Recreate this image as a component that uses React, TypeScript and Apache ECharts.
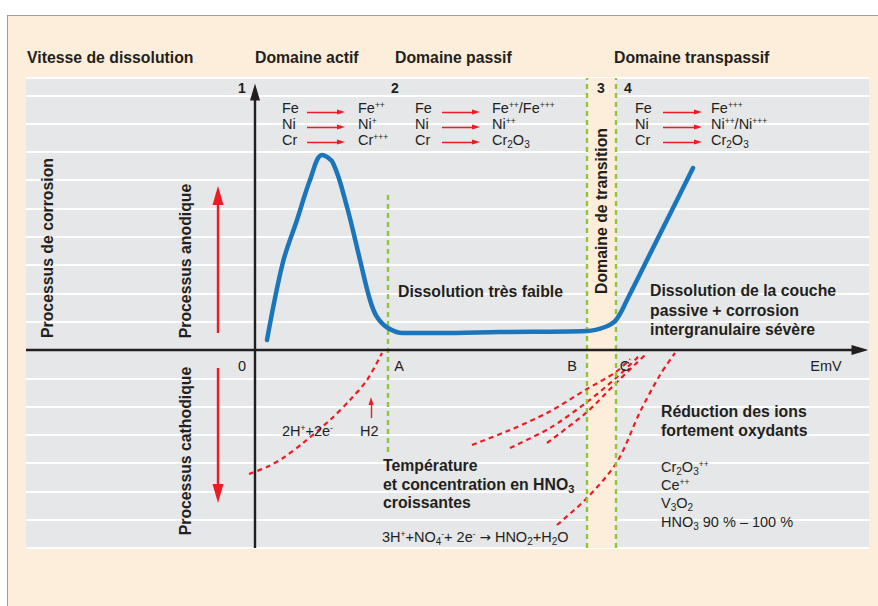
import React, { useEffect, useRef } from 'react';
import * as echarts from 'echarts';

// ---------- data (x: potential E, arbitrary units; y: dissolution rate, arbitrary units) ----------
const xRange = [-22.9, 61.4];
const yStep = 2.83;
const yRange = [-7 * yStep, 27.2];

const polarisationX = [1.2, 2.8, 4.2, 5.5, 6.7, 7.8, 9.2, 10.5, 11.5, 12.2, 13.3, 14.8, 18.5, 24.5, 33.2, 35.0, 36.1, 37.2, 40.5, 43.8];
const polarisationY = [1.0, 8.8, 13.0, 17.0, 19.5, 18.7, 14.3, 9.0, 5.0, 3.3, 2.2, 1.7, 1.7, 1.8, 1.9, 2.3, 3.0, 5.0, 11.6, 18.2];

const hydrogenX = [-0.6, 1.2, 2.8, 4.8, 7.5, 9.5, 11.2, 12.7];
const hydrogenY = [-12.4, -11.7, -10.8, -9.3, -7.0, -5.0, -3.0, -0.3];

const nitricAX = [21.7, 25.5, 29.2, 33.2, 36.1, 37.5];
const nitricAY = [-9.5, -8.0, -6.3, -3.9, -2.2, -0.9];
const nitricBX = [25.5, 29.5, 33.2, 36.1, 38.5];
const nitricBY = [-9.8, -7.8, -5.2, -2.8, -0.5];
const nitricCX = [29.2, 33.2, 36.1, 39.0];
const nitricCY = [-9.3, -6.2, -3.3, -0.5];
const oxidantX = [30.2, 33.2, 36.2, 38.5, 40.5, 42.0];
const oxidantY = [-17.5, -14.8, -11.2, -6.2, -2.5, -0.3];

const pointA = 13.3;
const pointB = 33.2;
const pointC = 36.1;
const lineAY = [15.5, -10.2];

const axisVerticalEnd = 25.8;
const axisHorizontalEnd = 60.5;

const anodicArrow = [-3.7, 1.7, 15.45];
const cathodicArrow = [-3.7, -1.8, -14.35];
const h2Arrow = [11.6, -6.8, -5.1];
const reactionRowsY = [23.8, 22.3, 20.8];
const reactionArrowsX = [[5.2, 8.6], [18.7, 22.1], [40.8, 44.3]];

// ---------- texts ----------
const headerLabels = ['Vitesse de dissolution', 'Domaine actif', 'Domaine passif', 'Domaine transpassif'];
const zoneNumbers = ['1', '2', '3', '4'];
const reactants = ['Fe', 'Ni', 'Cr'];
const productsActive = ['Fe^{++}', 'Ni^{+}', 'Cr^{+++}'];
const productsPassive = ['Fe^{++}/Fe^{+++}', 'Ni^{++}', 'Cr_{2}O_{3}'];
const productsTranspassive = ['Fe^{+++}', 'Ni^{++}/Ni^{+++}', 'Cr_{2}O_{3}'];
const oxidisingIons = ['Cr_{2}O_{3}^{++}', 'Ce^{++}', 'V_{3}O_{2}', 'HNO_{3} 90 % – 100 %'];
const potentialMarks = ['0', 'A', 'B', 'C', 'EmV'];

const FONT = '"Liberation Sans", Arial, Helvetica, sans-serif';
const TXT = '#231f20';
const PEACH = '#fdeedb';
const GRAY = '#e6e7e8';
const BLUE = '#1b75bb';
const RED = '#ed1c24';
const GREEN = '#8dc63f';

const zip = (xs: number[], ys: number[]) => xs.map((x, i) => [x, ys[i]]);

function toRich(s: string, base: string) {
  let out = '';
  const re = /([\^_])\{([^}]*)\}|(→)|([^\^_→]+)/g;
  let m: RegExpExecArray | null;
  while ((m = re.exec(s))) {
    if (m[1]) out += `{${base}${m[1] === '^' ? 'Sup' : 'Sub'}|${m[2]}}`;
    else if (m[3]) out += `{arr|${m[3]}}`;
    else out += `{${base}|${m[4]}}`;
  }
  return out;
}

const rich: any = {
  r: { fontFamily: FONT, fontSize: 14.5, fill: TXT, lineHeight: 16 },
  rSup: { fontFamily: FONT, fontSize: 8.5, fill: TXT, lineHeight: 8, padding: [0, 0, 7, 0] },
  rSub: { fontFamily: FONT, fontSize: 10, fill: TXT, lineHeight: 8, padding: [9, 0, 0, 0] },
  arr: { fontFamily: '"DejaVu Sans", sans-serif', fontSize: 13.5, fill: TXT, lineHeight: 16 },
  b: { fontFamily: FONT, fontSize: 15.8, fontWeight: 'bold', fill: TXT, lineHeight: 18.5 },
  bSub: { fontFamily: FONT, fontSize: 11, fontWeight: 'bold', fill: TXT, lineHeight: 10, padding: [9, 0, 0, 0] },
};

function txt(text: string, x: number, y: number, opts: any = {}) {
  const base = opts.bold ? 'b' : 'r';
  return {
    type: 'text',
    x,
    y,
    rotation: opts.rotation || 0,
    silent: true,
    z: 100,
    style: {
      text: toRich(text, base),
      rich,
      align: opts.align || 'left',
      verticalAlign: opts.verticalAlign || 'middle',
    },
  };
}

function plainBold(text: string, x: number, y: number, size: number, opts: any = {}) {
  return {
    type: 'text',
    x,
    y,
    rotation: opts.rotation || 0,
    silent: true,
    z: 100,
    style: {
      text,
      fontFamily: FONT,
      fontSize: size,
      fontWeight: 'bold',
      fill: TXT,
      align: opts.align || 'left',
      verticalAlign: 'middle',
      lineHeight: opts.lineHeight || size * 1.2,
    },
  };
}

function buildGraphics() {
  const g: any[] = [];
  const headerX = [27, 255, 395, 614];
  headerLabels.forEach((t, i) => g.push(plainBold(t, headerX[i], 57, 15.8)));
  const numX = [242, 395, 601, 628];
  zoneNumbers.forEach((t, i) => g.push(plainBold(t, numX[i], 88, 14, { align: 'center' })));

  const rowY = [108, 124, 140];
  const reactX = [282, 415, 635];
  const prodX = [358, 492, 711];
  const prods = [productsActive, productsPassive, productsTranspassive];
  for (let c = 0; c < 3; c++) {
    for (let r = 0; r < 3; r++) {
      g.push(txt(reactants[r], reactX[c], rowY[r]));
      g.push(txt(prods[c][r], prodX[c], rowY[r]));
    }
  }

  g.push(plainBold('Processus de corrosion', 47, 248, 15.8, { align: 'center', rotation: Math.PI / 2 }));
  g.push(plainBold('Processus anodique', 185, 261, 15.8, { align: 'center', rotation: Math.PI / 2 }));
  g.push(plainBold('Processus cathodique', 185, 451, 15.8, { align: 'center', rotation: Math.PI / 2 }));
  g.push(plainBold('Domaine de transition', 601, 211, 15.8, { align: 'center', rotation: Math.PI / 2 }));

  g.push(plainBold('Dissolution très faible', 398, 291, 15.8));
  g.push(plainBold('Dissolution de la couche\npassive + corrosion\nintergranulaire sévère', 650, 310, 15.8, { lineHeight: 19.8 }));
  g.push(plainBold('Réduction des ions\nfortement oxydants', 661, 420.5, 15.8, { lineHeight: 19 }));
  g.push(txt('Température\net concentration en HNO_{3}\ncroissantes', 383, 484, { bold: true }));

  const markX = [242, 399, 572, 625, 826];
  potentialMarks.forEach((t, i) => g.push(txt(t, markX[i], 366, { align: 'center' })));

  g.push(txt('2H^{+}+2e^{-}', 282, 431));
  g.push(txt('H2', 360, 431));
  g.push(txt('3H^{+}+NO_{4}^{-}+ 2e^{-} → HNO_{2}+H_{2}O', 382, 537));

  const ionY = [467, 485, 503, 522];
  oxidisingIons.forEach((t, i) => g.push(txt(t, 661, ionY[i])));
  return g;
}

const dashedRed = (name: string, xs: number[], ys: number[]) => ({
  name,
  type: 'line',
  data: zip(xs, ys),
  smooth: 0.3,
  symbol: 'none',
  silent: true,
  z: 4,
  lineStyle: { color: RED, width: 2.2, type: [5, 4] },
});

const arrowLine = (x1: number, y1: number, x2: number, y2: number) => [
  { coord: [x1, y1] },
  { coord: [x2, y2] },
];

function buildOption() {
  return {
    animation: false,
    backgroundColor: 'transparent',
    grid: {
      left: 26,
      right: 9,
      top: 78,
      bottom: 57.9,
      show: true,
      backgroundColor: GRAY,
      borderWidth: 0,
      containLabel: false,
      outerBoundsMode: 'none',
    },
    xAxis: {
      type: 'value',
      min: xRange[0],
      max: xRange[1],
      axisLine: { show: false },
      axisTick: { show: false },
      axisLabel: { show: false },
      splitLine: { show: false },
    },
    yAxis: {
      type: 'value',
      min: yRange[0],
      max: yRange[1],
      interval: yStep,
      axisLine: { show: false },
      axisTick: { show: false },
      axisLabel: { show: false },
      splitLine: { show: true, lineStyle: { color: '#ffffff', width: 2.2 } },
    },
    graphic: buildGraphics(),
    series: [
      {
        name: 'band',
        type: 'line',
        data: [],
        z: 1,
        silent: true,
        markArea: {
          silent: true,
          itemStyle: { color: PEACH, opacity: 1 },
          label: { show: false },
          data: [[{ xAxis: pointB }, { xAxis: pointC }]],
        },
      },
      {
        name: 'limits',
        type: 'line',
        data: [],
        z: 2,
        silent: true,
        markLine: {
          silent: true,
          symbol: 'none',
          label: { show: false },
          lineStyle: { color: GREEN, width: 2.4, type: [5, 4] },
          data: [
            arrowLine(pointA, lineAY[0], pointA, lineAY[1]),
            arrowLine(pointB, yRange[0], pointB, yRange[1]),
            arrowLine(pointC, yRange[0], pointC, yRange[1]),
          ],
        },
      },
      {
        name: 'axes',
        type: 'line',
        data: [],
        z: 6,
        silent: true,
        markLine: {
          silent: true,
          symbol: ['none', 'triangle'],
          symbolSize: [10, 17],
          label: { show: false },
          lineStyle: { color: '#231f20', width: 2.4, type: 'solid' },
          data: [
            arrowLine(0, yRange[0], 0, axisVerticalEnd),
            arrowLine(xRange[0], 0, axisHorizontalEnd, 0),
          ],
        },
      },
      {
        name: 'bigArrows',
        type: 'line',
        data: [],
        z: 6,
        silent: true,
        markLine: {
          silent: true,
          symbol: ['none', 'triangle'],
          symbolSize: [11, 19],
          label: { show: false },
          lineStyle: { color: RED, width: 2.4, type: 'solid' },
          data: [
            arrowLine(anodicArrow[0], anodicArrow[1], anodicArrow[0], anodicArrow[2]),
            arrowLine(cathodicArrow[0], cathodicArrow[1], cathodicArrow[0], cathodicArrow[2]),
          ],
        },
      },
      {
        name: 'smallArrows',
        type: 'line',
        data: [],
        z: 6,
        silent: true,
        markLine: {
          silent: true,
          symbol: ['none', 'triangle'],
          symbolSize: [5, 8],
          label: { show: false },
          lineStyle: { color: RED, width: 1.4, type: 'solid' },
          data: [
            arrowLine(h2Arrow[0], h2Arrow[1], h2Arrow[0], h2Arrow[2]),
            ...reactionArrowsX.flatMap(([a, b]) =>
              reactionRowsY.map((y) => arrowLine(a, y, b, y))
            ),
          ],
        },
      },
      dashedRed('H2 evolution', hydrogenX, hydrogenY),
      dashedRed('HNO3 a', nitricAX, nitricAY),
      dashedRed('HNO3 b', nitricBX, nitricBY),
      dashedRed('HNO3 c', nitricCX, nitricCY),
      dashedRed('oxidants', oxidantX, oxidantY),
      {
        name: 'polarisation',
        type: 'line',
        data: zip(polarisationX, polarisationY),
        smooth: 0.35,
        symbol: 'none',
        silent: true,
        z: 5,
        lineStyle: { color: BLUE, width: 4.5, cap: 'round', join: 'round' },
      },
    ],
  };
}

export default function App() {
  const ref = useRef<HTMLDivElement>(null);
  useEffect(() => {
    document.body.style.margin = '0';
    const chart = echarts.init(ref.current!, null, { renderer: 'svg' });
    chart.setOption(buildOption() as any);
    return () => chart.dispose();
  }, []);
  return (
    <div style={{ position: 'fixed', left: 0, top: 0, width: 878, height: 606, background: '#ffffff', overflow: 'hidden' }}>
      <div
        style={{
          position: 'absolute',
          left: 7,
          top: 15,
          width: 890,
          height: 610,
          background: PEACH,
          borderTop: '1.5px solid #9d9d9d',
          borderLeft: '1.5px solid #9d9d9d',
          boxSizing: 'border-box',
        }}
      />
      <div ref={ref} style={{ position: 'absolute', left: 0, top: 0, width: 878, height: 606 }} />
    </div>
  );
}
